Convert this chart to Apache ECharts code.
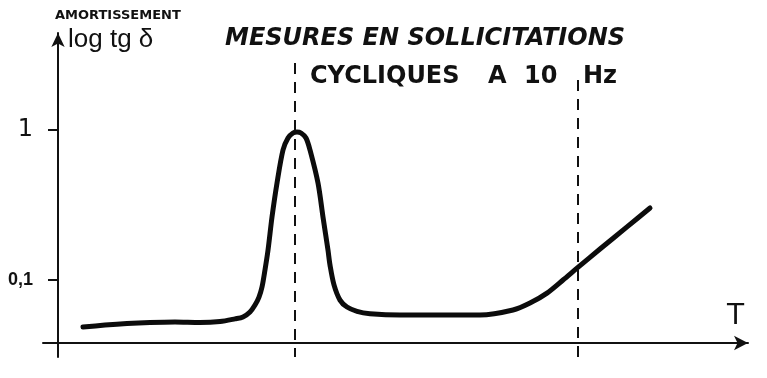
<!DOCTYPE html>
<html>
<head>
<meta charset="utf-8">
<script src="https://cdn.jsdelivr.net/npm/echarts@6/dist/echarts.min.js"></script>
<style>html,body{margin:0;padding:0;background:#fff}#c{width:767px;height:378px}</style>
</head>
<body>
<div id="c"></div>
<script>
// Temperature T (arbitrary units)
var temperature = [4.0, 6.2, 8.4, 10.7, 13.2, 15.7, 17.7, 19.2, 20.0, 20.7, 21.2, 21.6, 21.9, 22.2, 22.5, 22.9, 23.4, 24.0, 24.5, 25.0, 25.4, 25.8, 26.3, 26.7, 27.5, 28.0, 28.5, 28.7, 29.1, 29.7, 30.4, 31.4, 32.7, 35.7, 40.7, 43.7, 47.0, 48.7, 50.4, 52.0, 53.4, 55.7, 58.4, 60.7];
// Damping tg delta (read on the log scale)
var tgDelta = [0.0486, 0.0501, 0.0513, 0.0521, 0.0525, 0.0521, 0.0529, 0.0551, 0.0567, 0.0612, 0.0681, 0.077, 0.0898, 0.117, 0.158, 0.263, 0.443, 0.736, 0.885, 0.955, 0.970, 0.955, 0.885, 0.736, 0.443, 0.263, 0.158, 0.126, 0.0928, 0.0735, 0.0661, 0.0619, 0.0597, 0.0584, 0.0584, 0.0584, 0.0631, 0.0702, 0.0818, 0.100, 0.120, 0.161, 0.226, 0.302];
// Tick labels on the damping axis
var yTickValues = [0.1, 1];
var yTickLabels = ['0,1', '1'];
// Transition temperatures (dashed verticals) and their top ends
var transitionT = [25.2, 53.5];
var transitionTop = [2.8, 2.15];

var L = function (v) { return Math.log10(v); };
var pts = temperature.map(function (t, i) { return [t, L(tgDelta[i])]; });
var tickPos = yTickValues.map(L);
var chart = echarts.init(document.getElementById('c'));
var yMin = L(0.0307), yMax = L(4.43);
function tickIndex(v) {
  for (var k = 0; k < tickPos.length; k++) if (Math.abs(tickPos[k] - v) < 1e-6) return k;
  return -1;
}
chart.setOption({
  animation: false,
  backgroundColor: '#fff',
  grid: { left: 43, right: 19, top: 33, bottom: 21 },
  xAxis: {
    type: 'value', min: 0, max: 70.5, offset: -14,
    axisLine: { show: true, onZero: false, lineStyle: { color: '#111', width: 2 }, symbol: ['none', 'arrow'], symbolSize: [11, 14] },
    axisTick: { show: false }, axisLabel: { show: false }, splitLine: { show: false }
  },
  yAxis: {
    type: 'value', min: yMin, max: yMax, offset: -15,
    axisLine: { show: true, onZero: false, lineStyle: { color: '#111', width: 2 }, symbol: ['none', 'arrow'], symbolSize: [10, 14] },
    axisTick: { show: true, customValues: tickPos, length: 10, lineStyle: { color: '#111', width: 2 } },
    axisLabel: {
      show: true, customValues: tickPos, margin: 25,
      formatter: function (v) {
        var i = tickIndex(v);
        if (i < 0) return '';
        return yTickLabels[i] === '1' ? '{a|1}' : '{b|' + yTickLabels[i] + '}';
      },
      rich: {
        a: { fontFamily: 'DejaVu Sans', fontWeight: 'normal', fontSize: 24, color: '#111' },
        b: { fontFamily: 'Liberation Sans', fontWeight: 'bold', fontSize: 18, color: '#111' }
      }
    },
    splitLine: { show: false }
  },
  series: [{
    type: 'line', data: pts, smooth: 0.3, showSymbol: false,
    lineStyle: { color: '#0c0c0c', width: 5, cap: 'round', join: 'round' },
    markLine: {
      silent: true, symbol: ['none', 'none'], label: { show: false },
      lineStyle: { color: '#111', type: [11, 8], width: 2 },
      data: transitionT.map(function (t, i) { return [{ coord: [t, L(transitionTop[i])] }, { coord: [t, yMin] }]; })
    }
  }],
  graphic: [
    { type: 'text', left: 55, top: 9, style: { text: 'AMORTISSEMENT', font: 'bold 13px "DejaVu Sans"', fill: '#111' } },
    { type: 'text', left: 68, top: 27, style: { text: 'log tg δ', font: '26px "Liberation Sans"', fill: '#111' } },
    { type: 'text', left: 225, top: 27, style: { text: 'MESURES EN SOLLICITATIONS', font: 'italic bold 24px "DejaVu Sans"', fill: '#111' } },
    { type: 'text', left: 310, top: 65, style: { text: 'CYCLIQUES', font: 'bold 24px "DejaVu Sans"', fill: '#111' } },
    { type: 'text', left: 488, top: 65, style: { text: 'A', font: 'bold 24px "DejaVu Sans"', fill: '#111' } },
    { type: 'text', left: 524, top: 65, style: { text: '10', font: 'bold 24px "DejaVu Sans"', fill: '#111' } },
    { type: 'text', left: 583, top: 65, style: { text: 'Hz', font: 'bold 24px "DejaVu Sans"', fill: '#111' } },
    { type: 'text', left: 727, top: 303, style: { text: 'T', font: '28px "DejaVu Sans"', fill: '#111' } }
  ]
});
</script>
</body>
</html>
